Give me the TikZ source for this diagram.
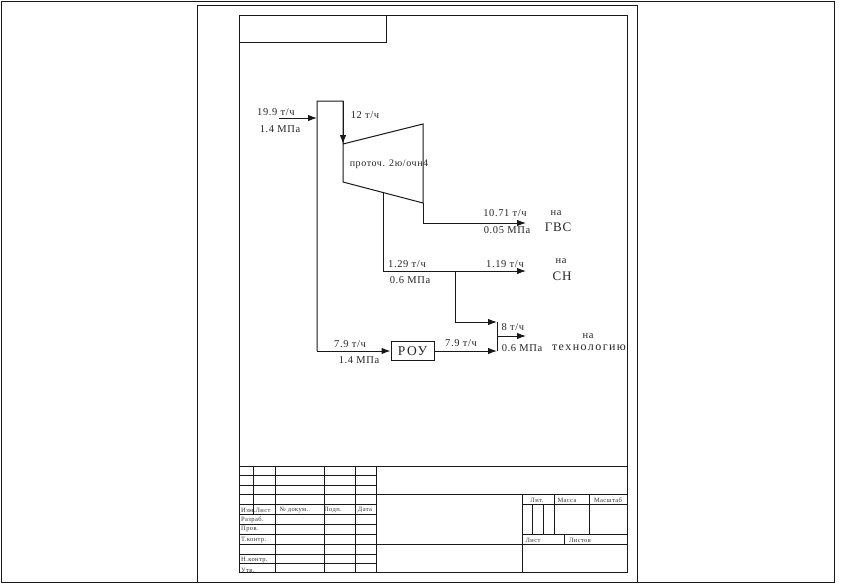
\documentclass[tikz,border=0pt]{standalone}
\usepackage{fontspec}
\setmainfont{Liberation Serif}
\newfontfamily\widefont[LetterSpace=6]{Liberation Serif}
\newfontfamily\widerfont[LetterSpace=12]{Liberation Serif}
\usetikzlibrary{arrows.meta}
\usetikzlibrary{shapes}

\begin{document}
\begin{tikzpicture}[x=1pt,y=-1pt]
    \tikzstyle{thin line}=[line width=1pt,black!90]
    \tikzstyle{pipe}=[line width=1pt,black!90]
    \tikzstyle{flow}=[pipe,-{Latex[length=9pt,width=6.5pt]}]
    \tikzstyle{label}=[inner sep=0pt,font=\widefont\fontsize{10.5}{11}\selectfont,black!85]
    \tikzstyle{dest}=[inner sep=0pt,font=\widefont\fontsize{13}{13}\selectfont,black!85]
    \tikzstyle{small}=[inner sep=0pt,font=\widefont\fontsize{6.5}{7}\selectfont,black!80]

    \useasboundingbox (0,0) rectangle (845,587);
    \fill[white] (0,0) rectangle (845,587);

    % frames
    \draw[thin line] (1,1) rectangle (834,582);
    \draw[thin line] (197,5) rectangle (637,582);
    \draw[thin line] (239,15) rectangle (627,572);
    \draw[thin line] (239,42) -- (386,42) -- (386,15);

    % points of the scheme
    \coordinate (in) at (279,118);
    \coordinate (inend) at (317,118);
    \coordinate (TL) at (317,101);
    \coordinate (TR) at (343,101);
    \coordinate (HPa) at (343,144);
    \coordinate (HPb) at (423,124);
    \coordinate (HPc) at (423,203);
    \coordinate (HPd) at (343,182);
    \coordinate (exh) at (423,223);
    \coordinate (GVS) at (526,223);
    \coordinate (bleed) at (383,193);
    \coordinate (bleedb) at (383,271);
    \coordinate (SN) at (526,271);
    \coordinate (tap) at (455,271);
    \coordinate (tapb) at (455,322);
    \coordinate (colt) at (497,322);
    \coordinate (colm) at (497,336);
    \coordinate (colb) at (497,351);
    \coordinate (tech) at (526,336);
    \coordinate (BL) at (317,351);

    \node[draw,thin line,minimum width=43pt,minimum height=19pt,inner sep=0pt] (ROU) at (412.5,351) {};
    \node[dest,font=\widerfont\fontsize{13.5}{14}\selectfont] (ROUtext) at (ROU) {РОУ};

    \draw[flow] (in) -- (inend);
    \draw[pipe] (BL) -- (TL) -- (TR) -- (HPd) -- (HPc) -- (HPb) -- (HPa);
    \draw[flow] (TR) -- (HPa);
    \draw[pipe] (HPc) -- (exh);
    \draw[flow] (exh) -- (GVS);
    \draw[pipe] (bleed) -- (bleedb);
    \draw[flow] (bleedb) -- (SN);
    \draw[pipe] (tap) -- (tapb);
    \draw[flow] (tapb) -- (colt);
    \draw[flow] (BL) -- (ROU);
    \draw[flow] (ROU) -- (colb);
    \draw[pipe] (colt) -- (colb);
    \draw[flow] (colm) -- (tech);

    % labels
    \node[label] (l1) at (276,112) {19.9 т/ч};
    \node[label] (l2) at (280,129) {1.4 МПа};
    \node[label] (l3) at (365,115) {12 т/ч};
    \node[label,font=\widefont\fontsize{10}{10}\selectfont] (l4) at (389,164) {проточ. 2ю/очн4};
    \node[label] (l5) at (505,213) {10.71 т/ч};
    \node[label] (l6) at (507,230) {0.05 МПа};
    \node[label] (l7) at (407,264) {1.29 т/ч};
    \node[label] (l8) at (410,280) {0.6 МПа};
    \node[label] (l9) at (505,264) {1.19 т/ч};
    \node[label] (l10) at (513,327) {8 т/ч};
    \node[label] (l11) at (522,348) {0.6 МПа};
    \node[label] (l12) at (350,344) {7.9 т/ч};
    \node[label] (l13) at (359,360) {1.4 МПа};
    \node[label] (l14) at (461,343) {7.9 т/ч};
    \node[label] (d1) at (556,213) {на};
    \node[dest] (d2) at (558,227) {ГВС};
    \node[label] (d3) at (561,261) {на};
    \node[dest] (d4) at (562,276) {СН};
    \node[label] (d5) at (588,336) {на};
    \node[label,font=\widerfont\fontsize{12}{12}\selectfont] (d6) at (589,348) {технологию};

    % title block
    \foreach \y in {475,485,504,514,524,534,554,563}
        \draw[thin line] (239,\y) -- (376,\y);
    \draw[thin line] (239,466) -- (627,466);
    \draw[thin line] (239,494) -- (627,494);
    \draw[thin line] (239,544) -- (627,544);
    \draw[thin line] (522,504) -- (627,504);
    \draw[thin line] (522,534) -- (627,534);
    \draw[thin line] (253,466) -- (253,514);
    \foreach \x in {275,324,355,376}
        \draw[thin line] (\x,466) -- (\x,572);
    \draw[thin line] (522,494) -- (522,572);
    \draw[thin line] (532,504) -- (532,534);
    \draw[thin line] (543,504) -- (543,534);
    \draw[thin line] (554,494) -- (554,534);
    \draw[thin line] (589,494) -- (589,534);
    \draw[thin line] (564,534) -- (564,544);

    \node[small,anchor=west] (t1) at (241,510) {Изм.Лист};
    \node[small] (t2) at (294,510) {№ докум.};
    \node[small] (t3) at (333,510) {Подп.};
    \node[small] (t4) at (365,510) {Дата};
    \node[small,anchor=west] (t5) at (241,520) {Разраб.};
    \node[small,anchor=west] (t6) at (241,529) {Пров.};
    \node[small,anchor=west] (t7) at (241,540) {Т.контр.};
    \node[small,anchor=west] (t8) at (241,560) {Н.контр.};
    \node[small,anchor=west] (t9) at (241,570) {Утв.};
    \node[small] (t10) at (537,500) {Лит.};
    \node[small] (t11) at (567,500) {Масса};
    \node[small] (t12) at (608,500) {Масштаб};
    \node[small] (t13) at (533,540) {Лист};
    \node[small] (t14) at (580,540) {Листов};
\end{tikzpicture}
\end{document}
